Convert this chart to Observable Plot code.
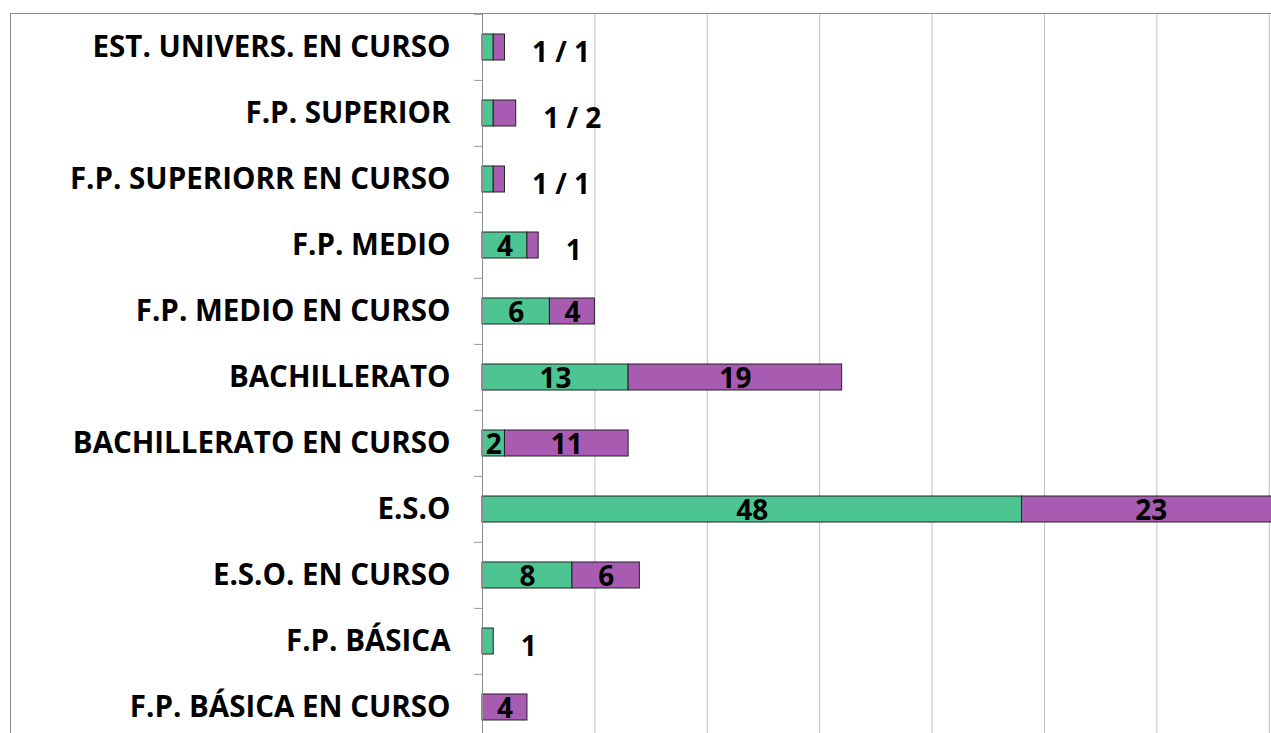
<!DOCTYPE html>
<html><head><meta charset="utf-8">
<script src="https://cdn.jsdelivr.net/npm/d3@7"></script>
<script src="https://cdn.jsdelivr.net/npm/@observablehq/plot@0.6"></script>
<style>
html,body{margin:0;padding:0;background:#fff;overflow:hidden}
#wrap{position:relative;width:1271px;height:733px;overflow:hidden}
#frame{position:absolute;left:10px;top:13px;width:1300px;height:800px;border-left:1px solid #8c8c8c;border-top:1px solid #8c8c8c;pointer-events:none}
</style></head><body><div id="wrap"><div id="frame"></div></div>
<script>
const categories = [
  "EST. UNIVERS. EN CURSO",
  "F.P. SUPERIOR",
  "F.P. SUPERIORR EN CURSO",
  "F.P. MEDIO",
  "F.P. MEDIO EN CURSO",
  "BACHILLERATO",
  "BACHILLERATO EN CURSO",
  "E.S.O",
  "E.S.O. EN CURSO",
  "F.P. BÁSICA",
  "F.P. BÁSICA EN CURSO"
];
const seriesNames = ["Serie 1", "Serie 2"];
const green  = [1, 1, 1, 4, 6, 13, 2, 48, 8, 1, 0];
const purple = [1, 2, 1, 1, 4, 19, 11, 23, 6, 0, 4];
const xTicks = [0, 10, 20, 30, 40, 50, 60, 70];

const colors = ["#4cc592", "#a85cb1"];

// long table for stacking
const long = [];
categories.forEach((c, i) => {
  const g = green[i], p = purple[i];
  const combined = g > 0 && p > 0 && g + p <= 3;
  long.push({cat: c, series: seriesNames[0], value: g, inside: !combined && g >= 2});
  long.push({cat: c, series: seriesNames[1], value: p, inside: !combined && p >= 2});
});
// labels placed beside the bar end
const outside = categories.map((c, i) => {
  const g = green[i], p = purple[i];
  let t = "";
  if (g > 0 && p > 0 && g + p <= 3) t = `${g} / ${p}`;
  else t = [g, p].filter(v => v === 1).join(" ");
  return {cat: c, total: g + p, label: t};
}).filter(d => d.label);

const y0 = 13.1, y1 = 742;
const step = (y1 - y0) / categories.length;

const chart = Plot.plot({
  width: 1271,
  height: 733,
  marginLeft: 482,
  marginRight: 0,
  marginTop: 13,
  marginBottom: 0,
  style: {fontFamily: "'Open Sans', sans-serif", fontWeight: 700, fontSize: "29px", color: "#000", background: "transparent"},
  x: {domain: [0, 70.2], range: [482, 1271], axis: null},
  y: {domain: categories, range: [y0, y1], paddingInner: 0.6, paddingOuter: 0.3, label: null},
  color: {domain: seriesNames, range: colors},
  marks: [
    Plot.gridX(xTicks, {stroke: "#c0c0c0", strokeOpacity: 1}),
    Plot.barX(long, Plot.stackX({x: "value", y: "cat", fill: "series", stroke: "#222", strokeWidth: 1})),
    Plot.ruleX([0], {stroke: "#8c8c8c"}),
    Plot.axisY({tickSize: 0, tickPadding: 32, fontSize: 29.5, fontWeight: 700, fill: "#000", label: null}),
    Plot.axisY({tickSize: 8, tickFormat: () => "", dy: -step / 2, stroke: "#9a9a9a", label: null}),
    Plot.text(long, Plot.stackX({x: "value", y: "cat", text: d => d.inside ? String(d.value) : null, fontSize: 28, fontWeight: 700, fill: "#000", dy: 2})),
    Plot.text(outside, {x: "total", y: "cat", text: "label", textAnchor: "start", dx: 27, dy: 6, fontSize: 28, fontWeight: 700, fill: "#000"})
  ]
});
chart.style.position = "absolute";
chart.style.left = "0";
chart.style.top = "0";
document.getElementById("wrap").prepend(chart);
</script>
</body></html>
